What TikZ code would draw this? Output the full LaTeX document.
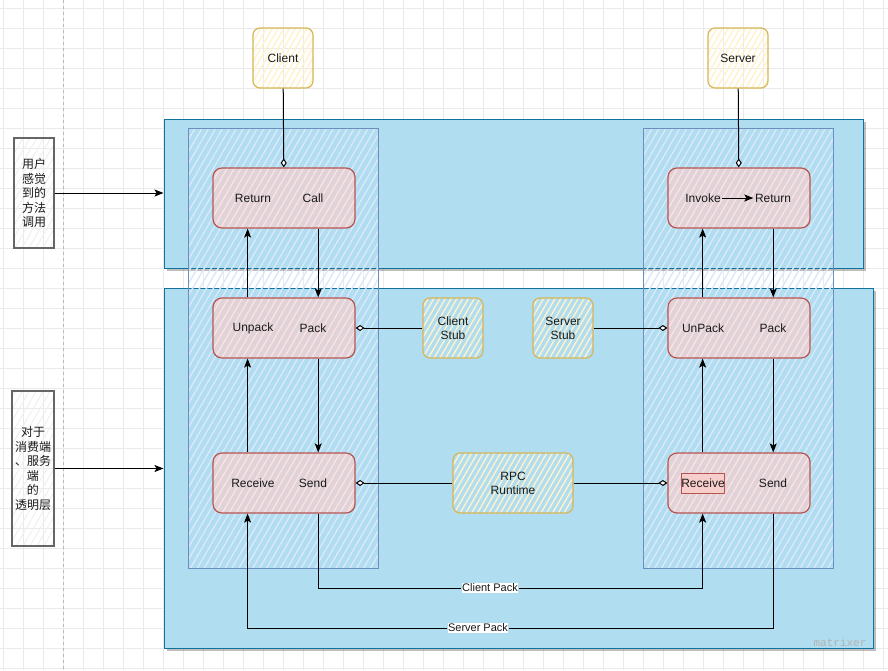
\documentclass[tikz,border=0pt]{standalone}
\usepackage{fontspec}
\setmainfont{Liberation Sans}
\newfontfamily\cjk{Noto Sans CJK SC}
\newfontfamily\markfont{Liberation Mono}
\usepackage{xcolor}
\usetikzlibrary{arrows.meta,positioning,calc,patterns.meta,shadows}

\definecolor{bandblue}{HTML}{B1DDF0}
\definecolor{banddraw}{HTML}{10739E}
\definecolor{colhatch}{HTML}{DAE8FC}
\definecolor{coldraw}{HTML}{6C8EBF}
\definecolor{redfill}{HTML}{F8CECC}
\definecolor{reddraw}{HTML}{B85450}
\definecolor{yelhatch}{HTML}{FFF2CC}
\definecolor{yeldraw}{HTML}{D6B656}
\definecolor{gridgray}{HTML}{EAEAEA}
\definecolor{inktext}{HTML}{1A1A1A}

\begin{document}
\begin{tikzpicture}[x=1pt, y=-1pt, font=\fontsize{12}{14}\selectfont, text=inktext,
  gridline/.style={draw=gridgray, line width=0.8pt},
  band/.style={rectangle, draw=banddraw, line width=1pt, fill=bandblue, inner sep=0pt,
    drop shadow={shadow xshift=3pt, shadow yshift=-3pt, opacity=0.25, fill=black}},
  column/.style={rectangle, draw=coldraw, line width=1pt, inner sep=0pt,
    pattern={Lines[angle=60,distance=6pt,line width=1.4pt]}, pattern color=colhatch},
  stage/.style={rectangle, rounded corners=9pt, draw=reddraw, line width=1.2pt, inner sep=0pt,
    minimum width=142pt, minimum height=60pt, preaction={fill=redfill!65!bandblue},
    pattern={Lines[angle=60,distance=6pt,line width=1.4pt]}, pattern color=redfill!60!white},
  yelbox/.style={rectangle, rounded corners=7pt, draw=yeldraw, line width=1.2pt, inner sep=0pt,
    minimum width=60pt, minimum height=60pt, align=center,
    pattern={Lines[angle=60,distance=5pt,line width=1.4pt]}, pattern color=yelhatch},
  note/.style={rectangle, draw=gray!80!black, line width=1.4pt, inner sep=0pt, align=center,
    font=\cjk\fontsize{12}{14.5}\selectfont,
    pattern={Lines[angle=60,distance=6pt,line width=1pt]}, pattern color=gray!12},
  txt/.style={inner sep=1.5pt},
  lbl/.style={fill=white, inner sep=0.5pt, font=\fontsize{11}{12}\selectfont},
  arr/.style={-{Stealth[length=9pt,width=7pt,inset=2pt]}, line width=1pt},
  link/.style={-{Diamond[fill=white,length=9pt,width=6pt]}, line width=1pt}]

\useasboundingbox (0,0) rectangle (888,670);
\fill[white] (0,0) rectangle (888,670);

% grid background
\foreach \gx in {3,23,...,883} \draw[gridline] (\gx,0) -- (\gx,670);
\foreach \gy in {8,28,...,668} \draw[gridline] (0,\gy) -- (888,\gy);
\draw[gray!55, dashed, line width=0.8pt] (63,0) -- (63,670);

% Layer 1: bands
\node[band, minimum width=699pt, minimum height=149pt] (topband) at (513.5,193.5) {};
\node[band, minimum width=709pt, minimum height=360pt] (botband) at (518.5,468) {};

% Layer 2: columns
\node[column, minimum width=190pt, minimum height=440pt] (lcol) at (283,348) {};
\node[column, minimum width=190pt, minimum height=440pt] (rcol) at (738,348) {};

% Layer 3: client side
\node[yelbox] (client) at (283,58) {Client};
\node[stage] (ltop) at (284,198) {};
\node[txt] (lret) at (253,198) {Return};
\node[txt] (lcall) at (313,198) {Call};
\node[stage] (lmid) at (284,328) {};
\node[txt] (lunpack) at (253,328) {Unpack};
\node[txt] (lpack) at (313,328) {Pack};
\node[stage] (lbot) at (284,483) {};
\node[txt] (lrecv) at (253,483) {Receive};
\node[txt] (lsend) at (313,483) {Send};

% Layer 4: server side
\node[yelbox] (server) at (738,58) {Server};
\node[stage] (rtop) at (739,198) {};
\node[txt] (rinvoke) at (703,198) {Invoke};
\node[txt] (rret) at (773,198) {Return};
\node[stage] (rmid) at (739,328) {};
\node[txt] (runpack) at (703,328) {UnPack};
\node[txt] (rpack) at (773,328) {Pack};
\node[stage] (rbot) at (739,483) {};
\node[rectangle, draw=reddraw, fill=redfill, line width=0.8pt, inner sep=0pt,
  minimum width=41pt, minimum height=20pt] (rrecv) at (703,483) {Receive};
\node[txt] (rsend) at (773,483) {Send};

% Layer 5: stubs and runtime
\node[yelbox] (cstub) at (453,328) {Client\\Stub};
\node[yelbox] (sstub) at (563,328) {Server\\Stub};
\node[yelbox, minimum width=120pt] (rpc) at (513,483) {RPC\\Runtime};

% side notes
\node[note, minimum width=40pt, minimum height=110pt] (note1) at (34,193)
  {用户\\感觉\\到的\\方法\\调用};
\node[note, minimum width=42pt, minimum height=155pt] (note2) at (33,468.5)
  {对于\\消费端\\、服务\\端\\的\\透明层};

% pack labels
\node[lbl] (cpack) at (490,588) {Client Pack};
\node[lbl] (spack) at (478,628) {Server Pack};

\node[text=gray!60, font=\markfont\fontsize{11}{11}\selectfont] (mark) at (840,643) {matrixer};

% Arrows
\draw[arr] (note1.east) -- (note1.east -| topband.west);
\draw[arr] (note2.east) -- (note2.east -| botband.west);

\draw[link] (client) -- (ltop);
\draw[link] (server) -- (rtop);

\draw[arr] ($(lmid.north west)!0.246!(lmid.north east)$) -- ($(ltop.south west)!0.246!(ltop.south east)$);
\draw[arr] ($(ltop.south west)!0.739!(ltop.south east)$) -- ($(lmid.north west)!0.739!(lmid.north east)$);
\draw[arr] ($(lbot.north west)!0.246!(lbot.north east)$) -- ($(lmid.south west)!0.246!(lmid.south east)$);
\draw[arr] ($(lmid.south west)!0.739!(lmid.south east)$) -- ($(lbot.north west)!0.739!(lbot.north east)$);

\draw[arr] ($(rmid.north west)!0.246!(rmid.north east)$) -- ($(rtop.south west)!0.246!(rtop.south east)$);
\draw[arr] ($(rtop.south west)!0.739!(rtop.south east)$) -- ($(rmid.north west)!0.739!(rmid.north east)$);
\draw[arr] ($(rbot.north west)!0.246!(rbot.north east)$) -- ($(rmid.south west)!0.246!(rmid.south east)$);
\draw[arr] ($(rmid.south west)!0.739!(rmid.south east)$) -- ($(rbot.north west)!0.739!(rbot.north east)$);

\draw[arr] (rinvoke) -- (rret);

\draw[link] (cstub) -- (lmid);
\draw[link] (sstub) -- (rmid);
\draw[link] (rpc) -- (lbot);
\draw[link] (rpc) -- (rbot);

\draw[line width=1pt] ($(lbot.south west)!0.739!(lbot.south east)$) |- (cpack);
\draw[arr] (cpack) -| ($(rbot.south west)!0.246!(rbot.south east)$);
\draw[line width=1pt] ($(rbot.south west)!0.739!(rbot.south east)$) |- (spack);
\draw[arr] (spack) -| ($(lbot.south west)!0.246!(lbot.south east)$);

\end{tikzpicture}
\end{document}
